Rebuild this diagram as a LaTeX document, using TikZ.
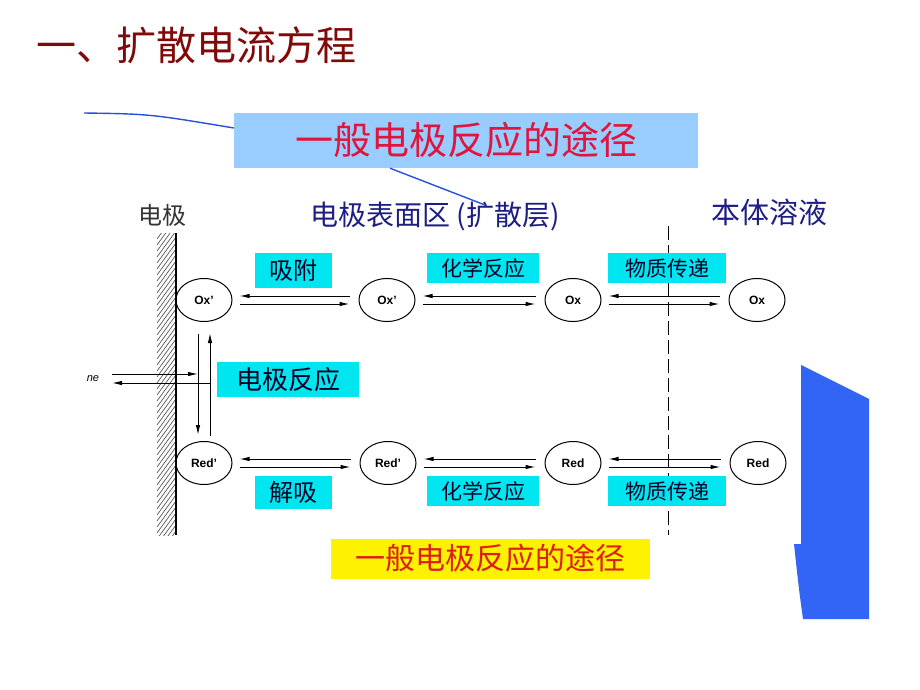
\documentclass[tikz,border=0pt]{standalone}
\usepackage{fontspec}
\setmainfont{Noto Sans CJK SC}
\newfontfamily\lab{Liberation Sans}
\usetikzlibrary{shapes.geometric,arrows.meta}

\definecolor{titlered}{RGB}{128,10,10}
\definecolor{calloutblue}{RGB}{153,204,255}
\definecolor{linkblue}{RGB}{40,80,220}
\definecolor{tagcyan}{RGB}{0,230,240}
\definecolor{navytext}{RGB}{30,30,130}
\definecolor{pathred}{RGB}{225,20,60}
\definecolor{pathorange}{RGB}{220,30,20}
\definecolor{barblue}{RGB}{50,100,245}

\begin{document}
\begin{tikzpicture}[x=1pt,y=-1pt,
  spec/.style={ellipse,draw,line width=1pt,minimum width=56pt,minimum height=43pt,inner sep=0pt,font=\lab\bfseries\fontsize{12}{14}\selectfont},
  tag/.style={fill=tagcyan,inner sep=0pt,text=black!85!blue},
  arr/.style={-{Latex[length=10pt,width=4.5pt]},line width=1pt}]
\fill[white] (0,0) rectangle (920,690);
\useasboundingbox (0,0) rectangle (920,690);

\node[anchor=west,inner sep=0pt,text=titlered,font=\fontsize{40}{44}\selectfont] (title) at (36,45) {一、扩散电流方程};

% electrode wall
\begin{scope}
\clip (157,233) rectangle (176,535);
\foreach \k in {233,239,...,565} \draw[black!65,line width=0.7pt] (157,\k) -- (176,\k-26);
\end{scope}
\draw[line width=1.3pt] (176,233) -- (176,535);

% boundary of the bulk solution
\coordinate (bTop) at (668,226);
\coordinate (bBot) at (668,535);
\draw[dash pattern=on 14pt off 5pt,line width=1pt] (bTop) -- (bBot);

\node[spec] (oxA) at (204,300) {Ox’};
\node[spec] (oxB) at (387,300) {Ox’};
\node[spec] (oxC) at (573,300) {Ox};
\node[spec] (oxD) at (757,300) {Ox};
\node[spec] (redA) at (204,463) {Red’};
\node[spec] (redB) at (388,463) {Red’};
\node[spec] (redC) at (573,463) {Red};
\node[spec] (redD) at (758,463) {Red};

\foreach \a/\b in {oxA/oxB,oxB/oxC,oxC/oxD,redA/redB,redB/redC,redC/redD}{
  \draw[arr] ([shift={(-9,-4)}]\b.west) -- ([shift={(7,-4)}]\a.east);
  \draw[arr] ([shift={(7,4)}]\a.east) -- ([shift={(-9,4)}]\b.west);
}

\draw[arr] ([shift={(-6,12)}]oxA.south) -- ([shift={(-6,-6)}]redA.north);
\draw[arr] ([shift={(6,-5)}]redA.north) -- ([shift={(6,11)}]oxA.south);

\coordinate (vdn) at ([xshift=-6pt]oxA.south);
\coordinate (vup) at ([xshift=6pt]oxA.south);
\coordinate (neR) at (112,374);
\coordinate (neL) at (112,383);
\draw[arr] (neR) -- (neR -| vdn);
\draw[arr] (neL -| vup) -- (neL);
\node[font=\lab\itshape\fontsize{11}{12}\selectfont] (neLbl) at (93,379) {ne};

\node[tag,minimum width=77pt,minimum height=35pt,font=\fontsize{24}{26}\selectfont] (xifu) at (293.5,270.5) {吸附};
\node[tag,minimum width=112pt,minimum height=30pt,font=\fontsize{21}{23}\selectfont] (hxTop) at (483,268) {化学反应};
\node[tag,minimum width=118pt,minimum height=30pt,font=\fontsize{21}{23}\selectfont] (wzTop) at (667,268) {物质传递};
\node[tag,minimum width=142pt,minimum height=35pt,font=\fontsize{26}{28}\selectfont] (djfy) at (288,379.5) {电极反应};
\node[tag,minimum width=77pt,minimum height=33pt,font=\fontsize{24}{26}\selectfont] (jiexi) at (293.5,492.5) {解吸};
\node[tag,minimum width=112pt,minimum height=30pt,font=\fontsize{21}{23}\selectfont] (hxBot) at (483,491) {化学反应};
\node[tag,minimum width=118pt,minimum height=30pt,font=\fontsize{21}{23}\selectfont] (wzBot) at (667,491) {物质传递};

\node[font=\fontsize{24}{26}\selectfont,text=black!80] (elec) at (162,215) {电极};
\node[font=\fontsize{28}{30}\selectfont,text=navytext] (surf) at (435,216) {电极表面区 (扩散层)};
\node[font=\fontsize{29}{31}\selectfont,text=navytext] (bulk) at (769,212) {本体溶液};

\node[fill=calloutblue,minimum width=464pt,minimum height=55pt,inner sep=0pt,text=pathred,font=\fontsize{38}{40}\selectfont] (bluebox) at (466,140.5) {一般电极反应的途径};
\node[fill=yellow,minimum width=319pt,minimum height=40pt,inner sep=0pt,text=pathorange,font=\fontsize{30}{32}\selectfont] (yellowbox) at (490.5,558.5) {一般电极反应的途径};

\coordinate (cl1) at (84,113);
\coordinate (cl2) at (485,205);
\draw[linkblue,line width=1.4pt] (cl1) .. controls (150,114) .. ([yshift=12.5pt]bluebox.west);
\draw[linkblue,line width=1.4pt] ([xshift=-76pt]bluebox.south) -- (cl2);

\fill[barblue] (801,365) -- (869,399) -- (869,619) -- (803,619) .. controls (799,590) .. (794,544) -- (801,544) -- cycle;
\end{tikzpicture}
\end{document}
